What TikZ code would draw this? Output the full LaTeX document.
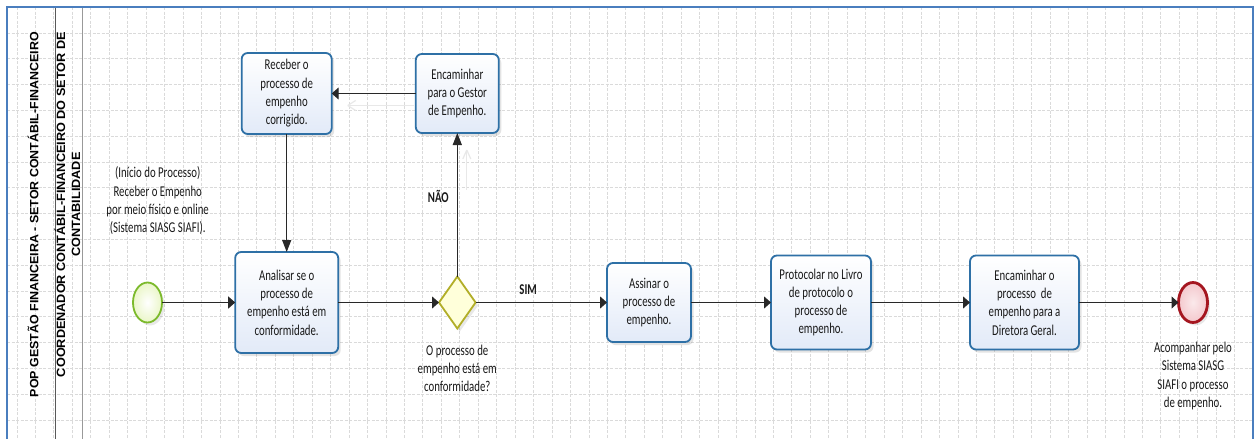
\documentclass[tikz,border=0pt]{standalone}
\usepackage{fontspec}
\usepackage{graphicx}
\usetikzlibrary{arrows.meta,shapes.geometric,shadows}
\newfontfamily\flowfont[FakeStretch=0.72]{Carlito}
\newfontfamily\lanefont{Liberation Sans}
\definecolor{taskline}{RGB}{46,112,166}
\definecolor{taskfill}{RGB}{226,234,248}
\definecolor{startline}{RGB}{124,186,44}
\definecolor{startfill}{RGB}{234,246,200}
\definecolor{endline}{RGB}{165,22,32}
\definecolor{endfill}{RGB}{244,200,205}
\definecolor{gateline}{RGB}{178,174,40}
\definecolor{gatefill}{RGB}{255,255,218}
\definecolor{flowline}{RGB}{40,40,40}
\definecolor{poolline}{RGB}{74,126,190}
\definecolor{gridline}{RGB}{218,218,218}
\begin{document}
\begin{tikzpicture}[x=1pt,y=-1pt,
  every node/.style={inner sep=0pt, outer sep=0pt},
  txt/.style={font=\flowfont\fontsize{15}{18.3}\selectfont, align=center, text=black!90},
  bold/.style={font=\flowfont\fontsize{15}{18.3}\selectfont\bfseries, text=black!90},
  task/.style={txt, draw=taskline, line width=1.8pt, rounded corners=6pt,
    top color=white, bottom color=taskfill,
    drop shadow={shadow xshift=2.5pt, shadow yshift=-3pt, opacity=0.22}},
  gate/.style={shape=diamond, draw=gateline, line width=1.8pt, fill=gatefill,
    minimum width=36.6pt, minimum height=52pt, aspect=0.7,
    drop shadow={shadow xshift=2.5pt, shadow yshift=-3pt, opacity=0.18}},
  startev/.style={shape=ellipse, draw=startline, line width=1.8pt,
    inner color=white, outer color=startfill,
    minimum width=29pt, minimum height=40pt,
    drop shadow={shadow xshift=2.5pt, shadow yshift=-3pt, opacity=0.18}},
  endev/.style={shape=ellipse, draw=endline, line width=2.8pt,
    inner color=white!60!endfill, outer color=endfill,
    minimum width=29pt, minimum height=40pt,
    drop shadow={shadow xshift=2.5pt, shadow yshift=-3pt, opacity=0.18}},
  hflow/.style={draw=flowline, line width=1.2pt, -{Triangle[length=7pt,width=12pt]}},
  vflow/.style={draw=flowline, line width=1.2pt, -{Triangle[length=12pt,width=9pt]}},
  ghost/.style={draw=black!9, line width=1.2pt},
  lanetxt/.style={rotate=90, font=\lanefont\bfseries\fontsize{12}{15}\selectfont, text=black}
]
% page
\fill[white] (0,0) rectangle (1255,439);
\useasboundingbox (0,0) rectangle (1255,439);

% background grid
\begin{scope}[gridline, line width=0.6pt, dash pattern=on 3pt off 1.5pt]
  \foreach \i in {0,...,66} \draw ({16.85+18.45*\i},7) -- ({16.85+18.45*\i},439);
  \foreach \j in {1,...,16} \draw (7,{7+25.8*\j}) -- (1253,{7+25.8*\j});
\end{scope}

% pool and lane borders
\draw[black!65, line width=0.9pt] (55,7) -- (55,439);
\draw[black!40, line width=1.4pt] (82.3,7) -- (82.3,439);
\draw[poolline, line width=1.5pt] (7,7) -- (1253,7) -- (1253,439);
\draw[poolline, line width=2.4pt] (7,6.3) -- (7,439);

% lane headers
\node[lanetxt] (pool) at (33,214.5)
  {\resizebox{365pt}{\height}{POP GESTÃO FINANCEIRA - SETOR CONTÁBIL-FINANCEIRO}};
\node[lanetxt] (lane) at (69.5,204.5)
  {\resizebox{345pt}{\height}{\begin{tabular}{@{}c@{}}COORDENADOR CONTÁBIL-FINANCEIRO DO SETOR DE\\CONTABILIDADE\end{tabular}}};

% flow objects
\node[startev] (start) at (147.5,302.5) {};
\node[task, minimum width=103pt, minimum height=101pt] (ana) at (286.7,302.5)
  {Analisar se o\\processo de\\empenho está em\\conformidade.};
\node[gate] (gw) at (457.3,302.5) {};
\node[task, minimum width=84pt, minimum height=79pt] (ass) at (649,302.5)
  {Assinar o\\processo de\\empenho.};
\node[task, minimum width=100pt, minimum height=94pt] (pro) at (821,302.5)
  {Protocolar no Livro\\de protocolo o\\processo de\\empenho.};
\node[task, minimum width=109pt, minimum height=94pt] (enc2) at (1024.5,302.5)
  {Encaminhar o\\processo~ de\\empenho para a\\Diretora Geral.};
\node[endev] (end) at (1193,302.5) {};
\node[task, minimum width=83pt, minimum height=79pt] (enc1) at (457.3,93.5)
  {Encaminhar\\para o Gestor\\de Empenho.};
\node[task, minimum width=90pt, minimum height=81pt] (rec) at (286.7,93.5)
  {Receber o\\processo de\\empenho\\corrigido.};

% annotations
\node[txt] (startlbl) at (157.7,201) {(Início do Processo)\\Receber o Empenho\\por meio físico e online\\(Sistema SIASG SIAFI).};
\node[txt] (gwlbl) at (457.3,368.5) {O processo de\\empenho está em\\conformidade?};
\node[txt] (endlbl) at (1193,376) {Acompanhar pelo\\Sistema SIASG\\SIAFI o processo\\de empenho.};

% faint connector shadows
\draw[ghost] ([shift={(-2,12)}]enc1.west) -- ([shift={(16,12)}]rec.east);
\draw[ghost] ([shift={(16,12)}]rec.east) -- ++(8,-5) ([shift={(16,12)}]rec.east) -- ++(8,5);
\draw[ghost] ([shift={(9.5,17)}]enc1.south) -- ++(0,40);
\draw[ghost] ([shift={(9.5,17)}]enc1.south) -- ++(-4,9) ([shift={(9.5,17)}]enc1.south) -- ++(4,9);

% sequence flows
\draw[hflow] (start) -- (ana);
\draw[hflow] (ana) -- (gw);
\draw[hflow] (gw) -- node[bold, pos=0.4, yshift=13pt] (sim) {SIM} (ass);
\draw[hflow] (ass) -- (pro);
\draw[hflow] (pro) -- (enc2);
\draw[hflow] (enc2) -- (end);
\draw[vflow] (gw) -- (enc1);
\draw[hflow] (enc1) -- (rec);
\draw[vflow] (rec) -- (ana);
\node[bold] (nao) at (438.3,196.7) {NÃO};
\end{tikzpicture}
\end{document}
